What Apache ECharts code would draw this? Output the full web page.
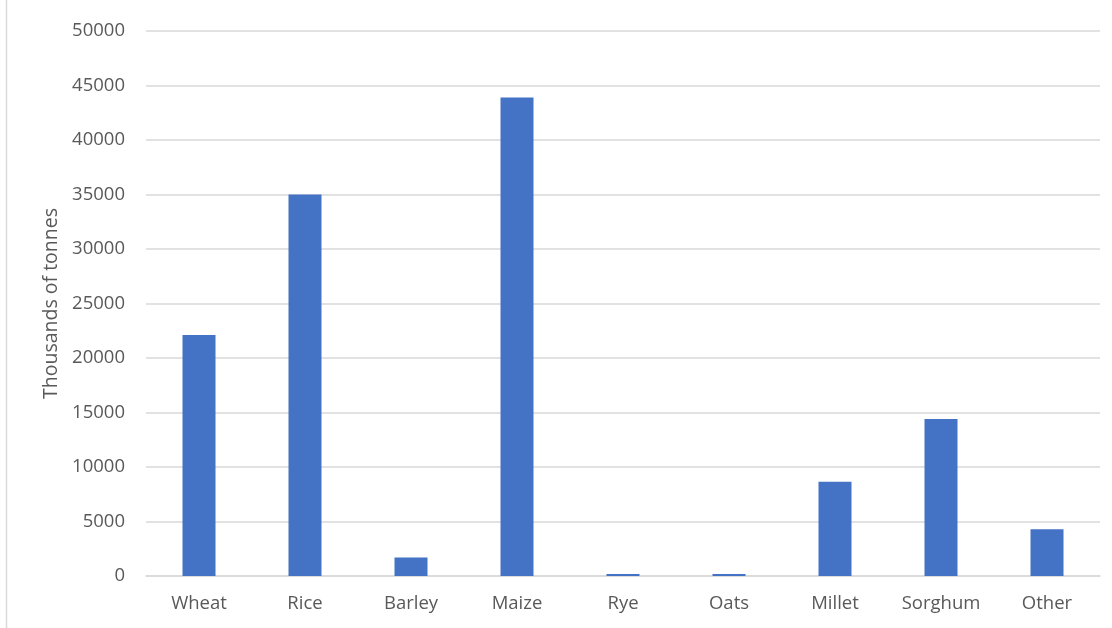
<!DOCTYPE html>
<html>
<head>
<meta charset="utf-8">
<script src="https://cdn.jsdelivr.net/npm/echarts@6/dist/echarts.min.js"></script>
<style>
  html, body { margin: 0; padding: 0; background: #ffffff; }
  #chart { width: 1112px; height: 628px; }
</style>
</head>
<body>
<div id="chart"></div>
<script>
// Cereal production by crop, thousands of tonnes
const categories = ['Wheat', 'Rice', 'Barley', 'Maize', 'Rye', 'Oats', 'Millet', 'Sorghum', 'Other'];
const production = [22100, 35000, 1700, 43900, 180, 180, 8650, 14400, 4300];
const yAxisName = 'Thousands of tonnes';

const textColor = '#595959';
const gridColor = '#d9d9d9';
const fontFamily = '"Open Sans", "Noto Sans", sans-serif';

const chart = echarts.init(document.getElementById('chart'), null, { renderer: 'canvas' });
chart.setOption({
  animation: false,
  backgroundColor: '#ffffff',
  grid: { left: 146, right: 12, top: 31, bottom: 52, containLabel: false },
  graphic: [{
    type: 'line',
    shape: { x1: 6.5, y1: 0, x2: 6.5, y2: 628 },
    style: { stroke: gridColor, lineWidth: 1.5 }
  }],
  xAxis: {
    type: 'category',
    data: categories,
    axisLine: { lineStyle: { color: gridColor, width: 1.5 } },
    axisTick: { show: false },
    axisLabel: { color: textColor, fontSize: 18.5, fontFamily, margin: 18 }
  },
  yAxis: {
    type: 'value',
    min: 0,
    max: 50000,
    interval: 5000,
    name: yAxisName,
    nameLocation: 'middle',
    nameGap: 83,
    nameTextStyle: { color: textColor, fontSize: 19.5, fontFamily },
    axisLine: { show: false },
    axisTick: { show: false },
    axisLabel: {
      color: textColor, fontSize: 18.5, fontFamily, margin: 21,
      formatter: (v) => String(v)
    },
    splitLine: { lineStyle: { color: gridColor, width: 1.5 } }
  },
  series: [{
    type: 'bar',
    data: production,
    barWidth: 33,
    itemStyle: { color: '#4472c4' }
  }]
});
</script>
</body>
</html>
